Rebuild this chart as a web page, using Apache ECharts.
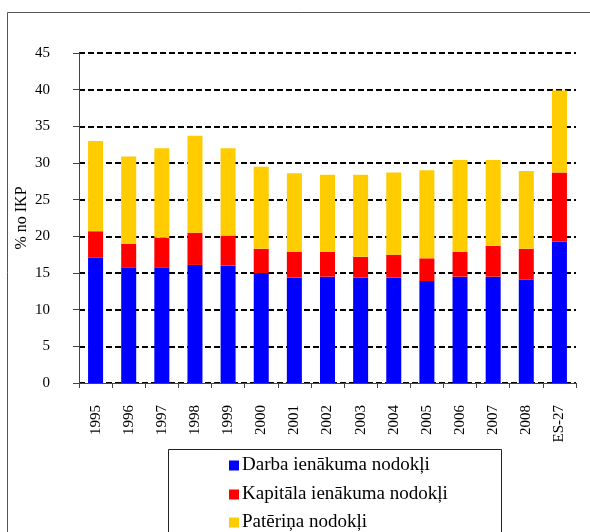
<!DOCTYPE html>
<html>
<head>
<meta charset="utf-8">
<script src="https://cdn.jsdelivr.net/npm/echarts@6/dist/echarts.min.js"></script>
<style>
  html, body { margin: 0; padding: 0; background: #fff; }
  #chart { width: 590px; height: 532px; }
</style>
</head>
<body>
<div id="chart"></div>
<script>
// Tax revenue structure, % of GDP
const categories = ['1995','1996','1997','1998','1999','2000','2001','2002','2003','2004','2005','2006','2007','2008','ES-27'];
const labourTax  = [17.1, 15.7, 15.7, 16.1, 16.0, 15.0, 14.4, 14.5, 14.4, 14.4, 13.9, 14.5, 14.5, 14.1, 19.3];
const capitalTax = [3.6, 3.3, 4.1, 4.4, 4.1, 3.3, 3.5, 3.4, 2.8, 3.1, 3.1, 3.4, 4.2, 4.2, 9.4];
const consumptionTax = [12.3, 11.9, 12.2, 13.2, 11.9, 11.2, 10.7, 10.5, 11.2, 11.2, 12.0, 12.5, 11.7, 10.6, 11.2];
const seriesNames = ['Darba ienākuma nodokļi', 'Kapitāla ienākuma nodokļi', 'Patēriņa nodokļi'];
const yTicks = [0, 5, 10, 15, 20, 25, 30, 35, 40, 45];

const font = 'Liberation Serif, Times New Roman, serif';
const chart = echarts.init(document.getElementById('chart'), null, { renderer: 'canvas' });

function bar(name, data, color) {
  return {
    name, type: 'bar', stack: 'total', data, barWidth: 15,
    itemStyle: { color }, emphasis: { disabled: true }
  };
}

// one legend row per series, stacked inside the framed box
const legendRowTops = [456, 485, 513];
const legends = seriesNames.map((n, i) => ({
  orient: 'vertical', left: 229, top: legendRowTops[i], z: 10, padding: 0,
  itemWidth: 10, itemHeight: 10, icon: 'rect',
  textStyle: { fontFamily: font, fontSize: 19, color: '#000', padding: [0, 0, 0, -2] },
  data: [n]
}));

chart.setOption({
  animation: false,
  textStyle: { fontFamily: font },
  grid: { left: 79, right: 14, top: 53, bottom: 149, containLabel: false },
  graphic: [
    { type: 'rect', shape: { x: 7.5, y: 12.5, width: 600, height: 600 },
      style: { fill: 'none', stroke: '#555', lineWidth: 1 }, silent: true },
    { type: 'rect', shape: { x: 168.5, y: 449.5, width: 333, height: 120 },
      style: { fill: '#fff', stroke: '#222', lineWidth: 1 }, silent: true, z: 5 }
  ],
  legend: legends,
  xAxis: {
    type: 'category', data: categories,
    axisLine: { lineStyle: { color: '#444', width: 1 } },
    axisTick: { show: true, length: 5, alignWithLabel: false, lineStyle: { color: '#444' } },
    axisLabel: { rotate: 90, interval: 0, margin: 22, fontFamily: font, fontSize: 15, color: '#000' }
  },
  yAxis: {
    type: 'value', min: 0, max: 45, interval: 5,
    name: '% no IKP', nameLocation: 'middle', nameGap: 49, nameRotate: 90,
    nameMoveOverlap: false,
    nameTextStyle: { fontFamily: font, fontSize: 16, color: '#000' },
    axisLine: { show: true, lineStyle: { color: '#444' } },
    axisTick: { show: true, length: 6, lineStyle: { color: '#444' } },
    axisLabel: { margin: 29, fontFamily: font, fontSize: 15, color: '#000',
      formatter: v => (yTicks.includes(v) ? String(v) : '') },
    splitLine: { show: true, lineStyle: { color: '#000', width: 2, type: [6, 3] } }
  },
  series: [
    bar(seriesNames[0], labourTax, '#0000ff'),
    bar(seriesNames[1], capitalTax, '#ff0000'),
    bar(seriesNames[2], consumptionTax, '#ffcc00')
  ]
});
</script>
</body>
</html>
